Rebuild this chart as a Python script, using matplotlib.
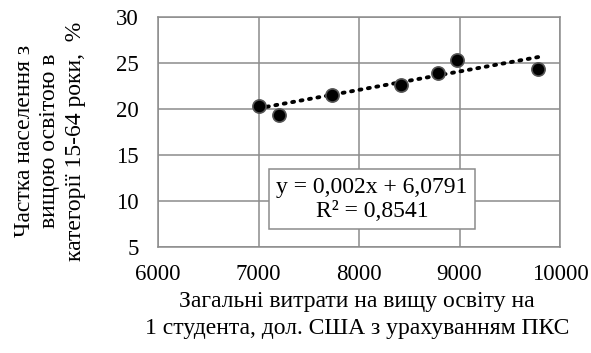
import numpy as np
import matplotlib
matplotlib.use("Agg")
import matplotlib.pyplot as plt

plt.rcParams['font.family'] = ['Liberation Serif', 'DejaVu Serif']

# витрати на студента (дол. США, ПКС) та частка населення з вищою освітою, %
spending = [7000, 7207, 7728, 8415, 8790, 8972, 9784]
share = [20.3, 19.4, 21.5, 22.6, 23.9, 25.3, 24.4]

# коефіцієнти лінійного тренду
slope = 0.002
intercept = 6.0791
r2 = 0.8541

x_ticks = [6000, 7000, 8000, 9000, 10000]
y_ticks = [5, 10, 15, 20, 25, 30]

W, H = 591, 353
fig = plt.figure(figsize=(W / 100, H / 100), dpi=100)
ax = fig.add_axes([158 / W, 1 - 247 / H, 402 / W, 230 / H])

grid_c = '#8c8c8c'
ax.set_xlim(6000, 10000)
ax.set_ylim(5, 30)
ax.set_xticks(x_ticks)
ax.set_yticks(y_ticks)
ax.grid(True, color=grid_c, linewidth=1.1)
ax.set_axisbelow(True)
for s in ax.spines.values():
    s.set_color(grid_c)
    s.set_linewidth(1.1)
ax.tick_params(length=0, labelsize=16.5)
ax.tick_params(axis='x', pad=12)
ax.tick_params(axis='y', pad=14)

# лінія тренду
tx = np.array([min(spending), max(spending)])
ax.plot(tx, slope * tx + intercept, color='black', linewidth=2.8,
        linestyle=(0, (0.5, 1.7)), dash_capstyle='round', zorder=3)

ax.plot(spending, share, 'o', color='black', markersize=9.5,
        markeredgecolor='#555555', markeredgewidth=1.2, zorder=4)

ax.text(8129, 10.2, 'y = 0,002x + 6,0791\nR² = 0,8541', fontsize=17,
        ha='center', va='center', linespacing=1.2, zorder=5,
        bbox=dict(boxstyle='square,pad=0.3', facecolor='white',
                  edgecolor=grid_c, linewidth=1.1))

fig.text(357 / W, 1 - 315 / H,
         'Загальні витрати на вищу освіту на\n1 студента, дол. США з урахуванням ПКС',
         fontsize=17, ha='center', va='center', linespacing=1.35)
fig.text(50 / W, 1 - 141 / H,
         'Частка населення з\nвищою освітою в\nкатегорії 15-64 роки,  %',
         fontsize=17, ha='center', va='center', rotation=90,
         linespacing=1.3)

fig.savefig('out.png', dpi=100)
